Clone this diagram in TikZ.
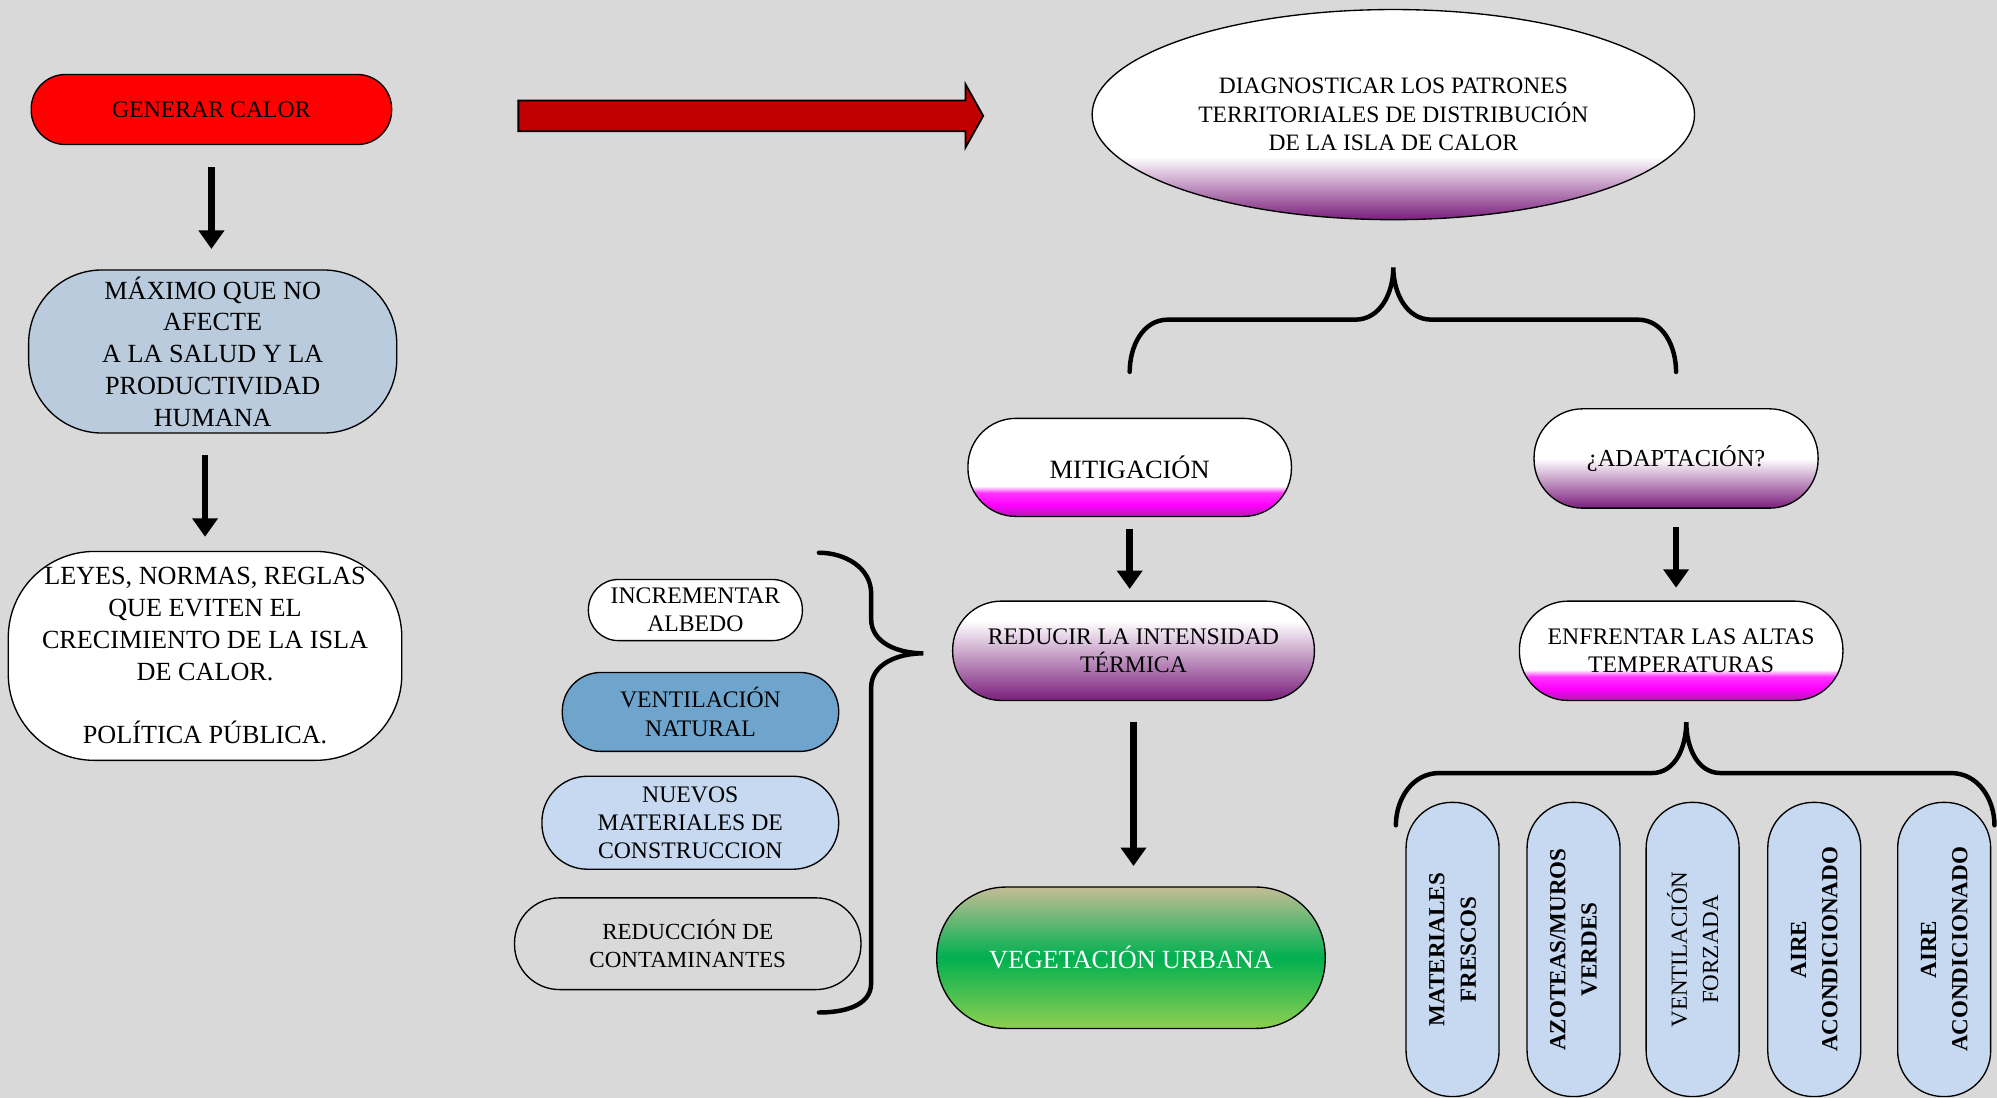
\documentclass[tikz,border=0pt]{standalone}
\usepackage{fontspec}
\setmainfont{Liberation Serif}
\usetikzlibrary{shapes, calc, arrows.meta, positioning}

\definecolor{fondo}{HTML}{D9D9D9}
\definecolor{rojo}{HTML}{FF0000}
\definecolor{vino}{HTML}{C00000}
\definecolor{azulgris}{HTML}{B9CBDC}
\definecolor{azulmedio}{HTML}{6FA5CD}
\definecolor{celeste}{HTML}{C6D9F1}
\definecolor{morado}{HTML}{7A1E7C}
\definecolor{fucsia}{HTML}{FF00FF}
\definecolor{fucsiaosc}{HTML}{B21CB2}
\definecolor{verde}{HTML}{00B050}
\definecolor{verdeclaro}{HTML}{8ED050}
\definecolor{caqui}{HTML}{C4BD95}

\pgfdeclareverticalshading{elipsemorada}{100bp}{color(0bp)=(morado); color(25bp)=(morado); color(40bp)=(white); color(100bp)=(white)}
\pgfdeclareverticalshading{moradosuave}{100bp}{color(0bp)=(morado); color(25bp)=(morado); color(65bp)=(white); color(100bp)=(white)}
\pgfdeclareverticalshading{moradomedio}{100bp}{color(0bp)=(morado); color(25bp)=(morado); color(50bp)=(white); color(100bp)=(white)}
\pgfdeclareverticalshading{fucsiabanda}{100bp}{color(0bp)=(fucsiaosc); color(25bp)=(fucsiaosc); color(31bp)=(fucsia); color(37bp)=(fucsia!80!white); color(39bp)=(fucsia!35!white); color(40.5bp)=(white); color(100bp)=(white)}

\begin{document}
\begin{tikzpicture}[line width=0.6pt]
	\tikzset{caja/.style 2 args={rectangle, draw, align=center, inner sep=1pt, minimum width=#1, minimum height=#2, rounded corners=0.49*#2, font=\fontsize{10.6}{12.6}\selectfont},
		izq/.style={font=\fontsize{11.7}{14.2}\selectfont},
		pildora/.style={caja={4.62cm}{1.46cm}, rotate=90, fill=celeste, font=\fontsize{10.3}{14}\selectfont\bfseries},
		flecha/.style={-{Triangle[width=0.39cm,length=0.29cm]}, line width=2.9pt},
		llave/.style={line width=2pt, line cap=round}}
	\fill[fondo] (0,0) rectangle (31.36,17.24);
	\useasboundingbox (0,0) rectangle (31.36,17.24);
	% columna izquierda
	\node[caja={5.66cm}{1.10cm}, fill=rojo] (generar) at (3.32,15.52) {GENERAR CALOR};
	\node[caja={5.78cm}{2.56cm}, fill=azulgris, izq, rounded corners=1.15cm] (maximo) at (3.34,11.72) {MÁXIMO QUE NO\\AFECTE\\A LA SALUD Y LA\\PRODUCTIVIDAD\\HUMANA};
	\node[caja={6.18cm}{3.28cm}, fill=white, izq, rounded corners=1.35cm] (leyes) at (3.22,6.94) {LEYES, NORMAS, REGLAS\\QUE EVITEN EL\\CRECIMIENTO DE LA ISLA\\DE CALOR.\\~\\POLÍTICA PÚBLICA.};
	\draw[fill=vino, line width=0.8pt] (8.14,15.18) -- (15.16,15.18) -- (15.16,14.92) -- (15.44,15.42) -- (15.16,15.92) -- (15.16,15.66) -- (8.14,15.66) -- cycle;
	% diagnostico
	\node[ellipse, draw, shade, shading=elipsemorada, minimum width=9.46cm, minimum height=3.30cm, align=center, inner sep=1pt, font=\fontsize{10.5}{12.8}\selectfont] (diag) at (21.88,15.44) {DIAGNOSTICAR LOS PATRONES\\TERRITORIALES DE DISTRIBUCIÓN\\DE LA ISLA DE CALOR};
	\node[caja={5.08cm}{1.54cm}, shade, shading=fucsiabanda, font=\fontsize{11.8}{14}\selectfont] (mitig) at (17.74,9.90) {MITIGACIÓN};
	\node[caja={4.46cm}{1.56cm}, shade, shading=moradomedio, font=\fontsize{10.9}{13}\selectfont] (adapt) at (26.32,10.04) {¿ADAPTACIÓN?};
	\node[caja={5.68cm}{1.56cm}, shade, shading=moradosuave] (reducir) at (17.80,7.02) {REDUCIR LA INTENSIDAD\\TÉRMICA};
	\node[caja={5.08cm}{1.56cm}, shade, shading=fucsiabanda] (enfrentar) at (26.40,7.02) {ENFRENTAR LAS ALTAS\\TEMPERATURAS};
	\node[caja={6.10cm}{2.22cm}, top color=caqui, bottom color=verdeclaro, middle color=verde, text=white, izq] (vegetacion) at (17.76,2.20) {VEGETACIÓN URBANA};
	% medidas de mitigacion
	\node[caja={3.36cm}{0.96cm}, fill=white] (albedo) at (10.92,7.66) {INCREMENTAR\\ALBEDO};
	\node[caja={4.34cm}{1.24cm}, fill=azulmedio] (ventnat) at (11.00,6.06) {VENTILACIÓN\\NATURAL};
	\node[caja={4.66cm}{1.46cm}, fill=celeste] (nuevos) at (10.84,4.32) {NUEVOS\\MATERIALES DE\\CONSTRUCCION};
	\node[caja={5.44cm}{1.44cm}, font=\fontsize{10.3}{12.6}\selectfont] (contaminantes) at (10.80,2.42) {REDUCCIÓN DE\\CONTAMINANTES};
	% medidas de adaptacion
	\node[pildora] (frescos) at (22.81,2.33) {MATERIALES\\FRESCOS};
	\node[pildora] (azoteas) at (24.71,2.33) {AZOTEAS/MUROS\\VERDES};
	\node[pildora, font=\fontsize{10.3}{14}\selectfont] (forzada) at (26.58,2.33) {VENTILACIÓN\\FORZADA};
	\node[pildora] (aire) at (28.49,2.33) {AIRE\\ACONDICIONADO};
	\node[pildora] (aireb) at (30.53,2.33) {AIRE\\ACONDICIONADO};
	% flechas
	\draw[flecha, shorten <=0.34cm, shorten >=0.32cm] (generar.south) -- (generar.south |- maximo.north);
	\draw[flecha, shorten <=0.34cm, shorten >=0.22cm] (leyes.north |- maximo.south) -- (leyes.north);
	\draw[flecha, shorten <=0.18cm, shorten >=0.18cm] (mitig.south) -- (mitig.south |- reducir.north);
	\draw[flecha, shorten <=0.28cm, shorten >=0.2cm] (adapt.south) -- (adapt.south |- enfrentar.north);
	\draw[flecha, shorten <=0.32cm, shorten >=0.32cm] (reducir.south) -- (reducir.south |- vegetacion.north);
	% llaves
	\draw[llave] (17.74,11.40) to[out=90,in=180] (18.34,12.22) -- (21.28,12.22) to[out=0,in=-90] (21.88,13.04) to[out=-90,in=180] (22.48,12.22) -- (25.72,12.22) to[out=0,in=90] (26.32,11.40);
	\draw[llave] (12.86,8.56) to[out=0,in=90] (13.68,7.92) -- (13.68,7.52) to[out=-90,in=180] (14.50,6.98) to[out=180,in=90] (13.68,6.44) -- (13.68,1.80) to[out=-90,in=0] (12.86,1.34);
	\draw[llave] (21.92,4.28) to[out=90,in=180] (22.60,5.10) -- (25.94,5.10) to[out=0,in=-90] (26.48,5.90) to[out=-90,in=180] (27.02,5.10) -- (30.64,5.10) to[out=0,in=90] (31.32,4.28);
\end{tikzpicture}
\end{document}
